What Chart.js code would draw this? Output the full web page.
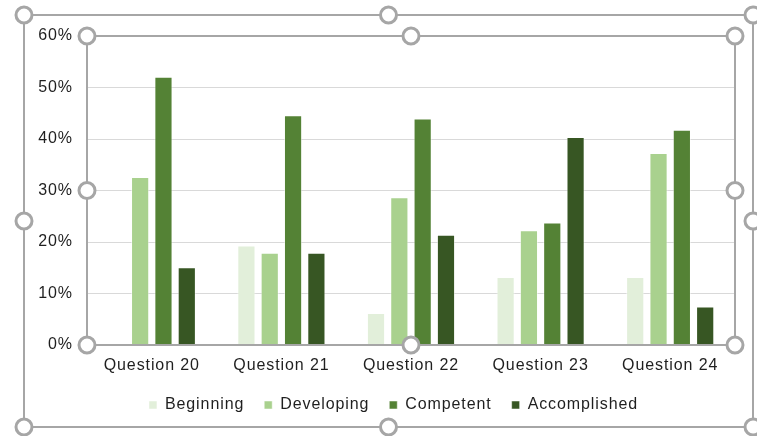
<!DOCTYPE html>
<html>
<head>
<meta charset="utf-8">
<script src="https://cdn.jsdelivr.net/npm/chart.js@4"></script>
<style>
  html, body { margin: 0; padding: 0; background: #fff; }
  #wrap { width: 757px; height: 436px; position: relative; }
</style>
</head>
<body>
<div id="wrap"><canvas id="chart"></canvas></div>
<script>
// ─── Data ────────────────────────────────────────────────────────────────────
const questions    = ["Question 20", "Question 21", "Question 22", "Question 23", "Question 24"];
const beginning    = [0, 19.3, 6.2, 13.2, 13.2];
const developing   = [32.6, 17.9, 28.7, 22.3, 37.3];
const competent    = [52.1, 44.6, 44.0, 23.8, 41.8];
const accomplished = [15.1, 17.9, 21.4, 40.4, 7.5];
const yTicks       = [0, 10, 20, 30, 40, 50, 60];

const FONT = { family: "'Liberation Sans', Arial, sans-serif", size: 16 };
const TEXT = "#1f1f1f";
const FRAME = "#a6a6a6";

// letter spacing like the Excel rendering
const spacingPlugin = {
  id: "spacing",
  beforeUpdate(chart) { chart.ctx.letterSpacing = "0.9px"; },
  beforeDraw(chart) { chart.ctx.letterSpacing = "0.9px"; }
};

// the legend in the reference sits a bit right of the canvas centre
const legendShift = {
  id: "legendShift",
  afterLayout(chart) {
    if (!chart.legend) return;
    chart.legend.left += 26;
    chart.legend.right += 26;
  }
};

// selection frames + handles
function handle(ctx, x, y) {
  ctx.beginPath();
  ctx.arc(x, y, 8, 0, Math.PI * 2);
  ctx.fillStyle = "#fff";
  ctx.fill();
  ctx.lineWidth = 3;
  ctx.strokeStyle = FRAME;
  ctx.stroke();
}

function frame(ctx, l, t, r, b) {
  ctx.lineWidth = 2;
  ctx.strokeStyle = FRAME;
  ctx.strokeRect(l, t, r - l, b - t);
  const mx = (l + r) / 2, my = (t + b) / 2;
  [[l, t], [mx, t], [r, t], [l, my], [r, my], [l, b], [mx, b], [r, b]]
    .forEach(p => handle(ctx, p[0], p[1]));
}

const selectionPlugin = {
  id: "selection",
  afterDraw(chart) {
    const ctx = chart.ctx;
    const a = chart.chartArea;
    ctx.save();
    frame(ctx, 24, 15, chart.width - 4, chart.height - 9);
    frame(ctx, a.left, a.top, a.right, a.bottom);
    ctx.restore();
  }
};

function makeSet(label, data, color) {
  return {
    label,
    data,
    backgroundColor: color,
    borderColor: "rgba(255,255,255,0.5)",
    borderWidth: 1,
    categoryPercentage: 0.72,
    barPercentage: 0.78
  };
}

new Chart(document.getElementById("chart"), {
  type: "bar",
  data: {
    labels: questions,
    datasets: [
      makeSet("Beginning", beginning, "#e2efda"),
      makeSet("Developing", developing, "#a9d18e"),
      makeSet("Competent", competent, "#548235"),
      makeSet("Accomplished", accomplished, "#375623")
    ]
  },
  options: {
    responsive: true,
    maintainAspectRatio: false,
    animation: false,
    layout: { padding: { top: 36, right: 22, bottom: 13, left: 0 } },
    plugins: {
      tooltip: { enabled: false },
      legend: {
        position: "bottom",
        labels: {
          font: FONT,
          color: TEXT,
          boxWidth: 8,
          boxHeight: 8,
          padding: 20
        }
      }
    },
    scales: {
      x: {
        grid: { display: false, drawTicks: false },
        border: { color: "#bfbfbf" },
        ticks: { font: FONT, color: TEXT, padding: 11, maxRotation: 0 },
        afterFit(scale) { scale.height = 32; }
      },
      y: {
        min: 0,
        max: 60,
        afterBuildTicks(scale) { scale.ticks = yTicks.map(v => ({ value: v })); },
        grid: { color: "#d9d9d9", lineWidth: 1, drawTicks: false },
        border: { display: false },
        ticks: {
          font: FONT,
          color: TEXT,
          padding: 14,
          callback: v => v + "%"
        },
        afterFit(scale) { scale.width = 87; }
      }
    }
  },
  plugins: [spacingPlugin, legendShift, selectionPlugin]
});
</script>
</body>
</html>
